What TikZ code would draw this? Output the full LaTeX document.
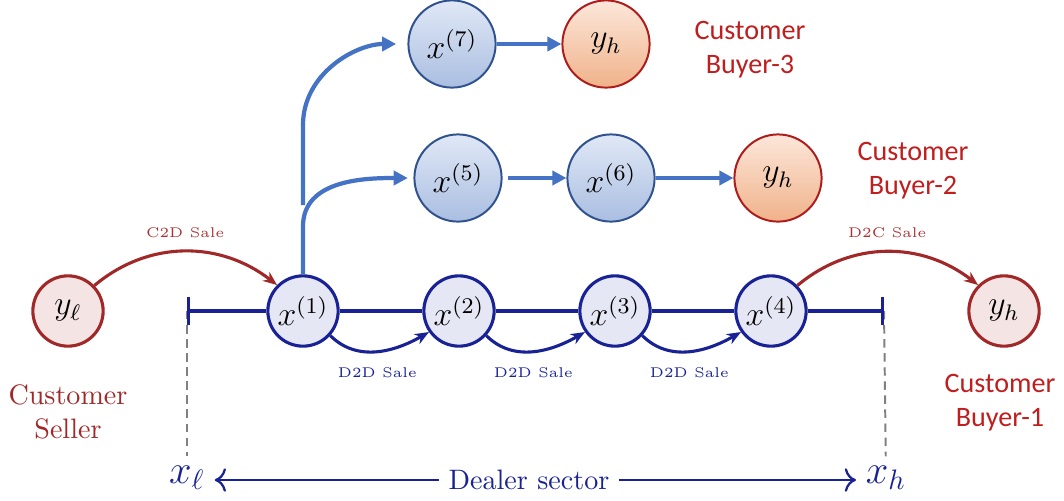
\documentclass[tikz,border=0pt]{standalone}
\usepackage{fontspec}
\usepackage{amsmath}
\usetikzlibrary{arrows.meta}
\newfontfamily\buyerfont{Carlito}
\definecolor{dealerblue}{RGB}{24,34,148}
\definecolor{dealerfill}{RGB}{230,231,245}
\definecolor{custred}{RGB}{160,40,40}
\definecolor{custfill}{RGB}{245,228,228}
\definecolor{salered}{RGB}{170,50,50}
\definecolor{buyerred}{RGB}{192,30,30}
\definecolor{pptblue}{RGB}{68,114,196}
\definecolor{pptline}{RGB}{47,82,143}
\definecolor{ppttop}{RGB}{224,232,246}
\definecolor{pptbottom}{RGB}{170,190,225}
\definecolor{peachtop}{RGB}{252,231,218}
\definecolor{peachbottom}{RGB}{240,178,138}
\tikzset{
    dealernode/.style={circle, draw=dealerblue, fill=dealerfill, line width=1.1pt, minimum size=25pt, inner sep=0pt, font=\large},
    sellernode/.style={circle, draw=custred, fill=custfill, line width=1.1pt, minimum size=25pt, inner sep=0pt, font=\large},
    topnode/.style={circle, draw=pptline, top color=ppttop, bottom color=pptbottom, line width=0.7pt, minimum size=31pt, inner sep=0pt, font=\large},
    peachnode/.style={circle, draw=buyerred!90!black, top color=peachtop, bottom color=peachbottom, line width=0.7pt, minimum size=31pt, inner sep=0pt, font=\large},
    dealerline/.style={dealerblue, line width=1.1pt},
    d2dline/.style={-{Stealth[length=5pt,width=4pt]}, dealerblue, line width=1.1pt},
    saleline/.style={-{Stealth[length=5pt,width=4pt]}, custred, line width=1.1pt},
    pptarrow/.style={-{Triangle[length=5pt,width=5pt]}, pptblue, line width=1.5pt},
    salelabel/.style={font=\fontsize{5}{6}\selectfont},
    sellertext/.style={custred, align=center, font=\normalsize},
    buyertext/.style={buyerred, align=center, font=\buyerfont\normalsize},
    sectortext/.style={dealerblue, font=\normalsize},
    sectorarrow/.style={-{Computer Modern Rightarrow[length=4pt]}, dealerblue, line width=0.8pt},
    dashline/.style={gray, line width=0.7pt, dash pattern=on 3pt off 2pt},
}

\begin{document}
\begin{tikzpicture}[x=0.0125cm,y=0.0125cm]
  \useasboundingbox (0,0) rectangle (1064,500);
  % dealer chain x^(1) ... x^(4)
  \foreach \i in {1,...,4}{
    \pgfmathsetmacro{\x}{303+156*(\i-1)}
    \node[dealernode] (D-\i) at (\x,189) {$x^{(\i)}$};
  }
  \coordinate (xl) at (187,189);
  \coordinate (xh) at (884,189);
  % customers at both ends
  \node[sellernode] (yl) at (68,189) {$y_\ell$};
  \node[sellernode] (yh1) at (1004,189) {$y_h$};
  \node[sellertext] (seller) at (68,88) {Customer\\Seller};
  \node[buyertext] (buyer1) at (1000,97) {Customer\\Buyer-1};
  % bottom axis
  \node[sectortext, font=\Large] (xlo) at (187,22) {$x_\ell$};
  \node[sectortext, font=\Large] (xho) at (886,22) {$x_h$};
  \node[sectortext] (sector) at (529,20) {Dealer sector};
  \draw[dashline] (xl) -- (xlo);
  \draw[dashline] (xh) -- (xho);
  \draw[sectorarrow] (sector.west) -- (sector.west -| xlo.east);
  \draw[sectorarrow] (sector.east) -- (sector.east -| xho.west);
  % the sector line, with bars at its ends
  \draw[dealerline, {Bar[width=10pt]}-] (xl) -- (D-1);
  \foreach \i/\j in {1/2,2/3,3/4}{
    \draw[dealerline] (D-\i) -- (D-\j);
    \draw[d2dline] (D-\i.-42) to[out=-45,in=-150]
      node[below=2pt, salelabel, dealerblue]{D2D Sale} (D-\j.-145);
  }
  \draw[dealerline, -{Bar[width=10pt]}] (D-4) -- (xh);
  % C2D / D2C sales
  \draw[saleline] (yl.44) to[out=40,in=142]
    node[above=1pt, salelabel, salered]{C2D Sale} (D-1.135);
  \draw[saleline] (D-4.44) to[out=40,in=142]
    node[above=1pt, salelabel, salered]{D2C Sale} (yh1.135);
  % resale chains above
  \node[topnode] (T-7) at (452,456) {$x^{(7)}$};
  \node[peachnode] (Y-3) at (606,456) {$y_h$};
  \node[topnode] (T-5) at (458,322) {$x^{(5)}$};
  \node[topnode] (T-6) at (611,322) {$x^{(6)}$};
  \node[peachnode] (Y-2) at (778,322) {$y_h$};
  \node[buyertext] (buyer3) at (750,450) {Customer\\Buyer-3};
  \node[buyertext] (buyer2) at (913,329) {Customer\\Buyer-2};
  \draw[pptarrow] (T-7) -- (Y-3);
  \draw[pptarrow, shorten <=2pt] (T-5) -- (T-6);
  \draw[pptarrow] (T-6) -- (Y-2);
  \coordinate (split) at (303,295);
  \draw[pptarrow, shorten >=4pt] (split) -- ++(0,80) to[out=90,in=180] (T-7.west);
  \draw[pptarrow, shorten >=2pt] (D-1.north) -- ++(0,48) to[out=90,in=180] (T-5.west);
\end{tikzpicture}
\end{document}
